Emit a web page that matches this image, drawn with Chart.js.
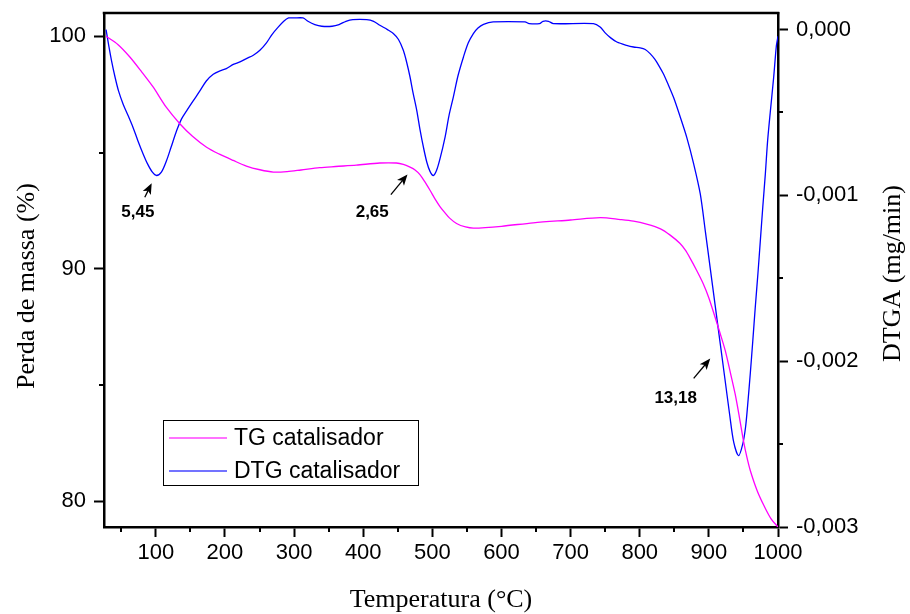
<!DOCTYPE html>
<html><head><meta charset="utf-8">
<script src="https://cdn.jsdelivr.net/npm/chart.js@4/dist/chart.umd.min.js"></script>
<style>html,body{margin:0;padding:0;background:#fff;}canvas{display:block;}</style>
</head><body>
<canvas id="c" width="910" height="614"></canvas>
<script>
// ---- data ----
const tgTemp = [28,45,62.4,80,96,115,134.7,153,173.4,192,212,231,250.5,270,290,310,337,360,390,424,448,458,467.7,475,482,489,496.6,504,511,518,525,535,548,560,600,646,700,743,772,791,810,830,844,858,866,873,882,892,900,909,916,923.7,931,938,944,950,955,960,970,980,990,1000];
const tgMass = [100.0,99.65,99.11,98.45,97.82,96.95,96.24,95.7,95.23,94.93,94.66,94.42,94.26,94.16,94.18,94.25,94.35,94.4,94.46,94.55,94.55,94.49,94.37,94.25,94.05,93.75,93.38,93.0,92.68,92.42,92.18,91.95,91.8,91.75,91.83,91.98,92.1,92.2,92.12,92.05,91.92,91.72,91.45,91.1,90.8,90.45,89.95,89.35,88.75,87.92,87.25,86.48,85.55,84.62,83.65,82.61,81.9,81.32,80.45,79.8,79.25,78.9];
const dtgTemp = [28,32,36,40.6,46,52.7,60,67,74,81.6,88,95,101,108,115.5,122,130,137,144.5,154,163.7,173,183,192,202,212,221.6,231,241,250.5,260,268,276,285,292,300,313,320,330,340,355,365,375,385,405,415,424,435,443.5,451,458,463,467.7,472,477.4,482,487,492,496.6,501.4,506,511,518.4,524,530.4,537,545,552,559.3,566,574,588,634,640,655,660,668,675,733,742.7,750,758,766.9,781,791,800.6,808,815,822,828,834,841,849,858,868,878,887.5,895,902,909,916,923,930,936,943,949,953,956,960,963.5,967.2,971,974.5,978,981.7,985,989,993.7,997.6,1000];
const dtgRate = [0.0,-0.0001,-0.00019,-0.00028,-0.00037,-0.00045,-0.00052,-0.00059,-0.00067,-0.00075,-0.00081,-0.00086,-0.00088,-0.00086,-0.00079,-0.00071,-0.00061,-0.00054,-0.00049,-0.00043,-0.00037,-0.00031,-0.00027,-0.00025,-0.000235,-0.00021,-0.000195,-0.000175,-0.000155,-0.000125,-0.00008,-0.00003,0.00001,0.00005,0.00007,0.00007,0.00007,0.00005,0.00003,0.00002,0.00002,0.00003,0.00005,0.00006,0.00006,0.00005,0.000026,0.0,-0.000024,-0.00006,-0.000125,-0.0002,-0.000286,-0.00038,-0.000487,-0.0006,-0.000708,-0.0008,-0.000855,-0.00088,-0.00085,-0.00078,-0.000648,-0.00052,-0.000406,-0.00028,-0.000165,-0.00008,-0.000024,0.00001,0.000032,0.000046,0.000046,0.000036,0.000036,0.00005,0.00005,0.000036,0.000036,0.000016,-0.00002,-0.00005,-0.000075,-0.000095,-0.000105,-0.00011,-0.00012,-0.000145,-0.00018,-0.00022,-0.000265,-0.00033,-0.00041,-0.00052,-0.00065,-0.00081,-0.00099,-0.00122,-0.00144,-0.00166,-0.00188,-0.0021,-0.00232,-0.00249,-0.00257,-0.0025,-0.0024,-0.00227,-0.00207,-0.00188,-0.00167,-0.00147,-0.00127,-0.00107,-0.00087,-0.00067,-0.00049,-0.00029,-0.0001,-0.00004];
const xMajorTicks = [100,200,300,400,500,600,700,800,900,1000];
const xMinorTicks = [50,150,250,350,450,550,650,750,850,950];
const massMajorTicks = [80,90,100];
const massMinorTicks = [85,95];
const rateMajorTicks = [0,-0.001,-0.002,-0.003];
const rateMinorTicks = [-0.0005,-0.0015,-0.0025];
const seriesNames = ['TG catalisador','DTG catalisador'];
const axisTitles = ['Temperatura (°C)','Perda de massa (%)','DTGA (mg/min)'];
const peakLabels = ['5,45','2,65','13,18'];
// label anchor (temperature, mass) and arrow tail/head in data units of the mass axis
const peakLabelAt = [[74,92.42],[413,92.42],[852,84.42]];
const peakArrowFrom = [[84,93.08],[440,93.19],[878,85.29]];
const peakArrowTo = [[94,93.68],[464,94.06],[902,86.14]];

const SANS = "'Liberation Sans', Arial, sans-serif";
const SERIF = "'Liberation Serif', 'Times New Roman', serif";
const fmtRate = v => Math.abs(v) < 1e-12 ? '0,000' : v.toFixed(3).replace('.', ',');

function setTicks(list) {
  return s => { s.ticks = list.slice().sort((a,b)=>a-b).map(v => ({value: v})); };
}

const decor = {
  id: 'decor',
  afterDraw(chart) {
    const c = chart.ctx, a = chart.chartArea;
    const x = chart.scales.x, ym = chart.scales.yMass, yr = chart.scales.yRate;
    c.save();
    // top frame line
    c.strokeStyle = '#000'; c.lineWidth = 2.5;
    c.beginPath(); c.moveTo(a.left - 1.25, a.top); c.lineTo(a.right + 1.25, a.top); c.stroke();
    // minor ticks
    c.lineWidth = 2;
    c.beginPath();
    xMinorTicks.forEach(v => { const px = Math.round(x.getPixelForValue(v)); c.moveTo(px, a.bottom); c.lineTo(px, a.bottom + 5); });
    massMinorTicks.forEach(v => { const py = Math.round(ym.getPixelForValue(v)); c.moveTo(a.left, py); c.lineTo(a.left - 5, py); });
    rateMinorTicks.forEach(v => { const py = Math.round(yr.getPixelForValue(v)); c.moveTo(a.right, py); c.lineTo(a.right + 5, py); });
    c.stroke();
    // axis titles
    c.fillStyle = '#000';
    c.font = '26px ' + SERIF;
    c.textAlign = 'center'; c.textBaseline = 'middle';
    c.fillText(axisTitles[0], (a.left + a.right) / 2, 600);
    c.save(); c.translate(27, 286); c.rotate(-Math.PI/2); c.fillText(axisTitles[1], 0, 0); c.restore();
    c.save(); c.translate(893, 273.5); c.rotate(-Math.PI/2); c.fillText(axisTitles[2], 0, 0); c.restore();
    // peak annotations
    c.font = 'bold 17px ' + SANS;
    peakLabels.forEach((t, i) => {
      c.fillText(t, x.getPixelForValue(peakLabelAt[i][0]), ym.getPixelForValue(peakLabelAt[i][1]));
      const x0 = x.getPixelForValue(peakArrowFrom[i][0]), y0 = ym.getPixelForValue(peakArrowFrom[i][1]);
      const x1 = x.getPixelForValue(peakArrowTo[i][0]), y1 = ym.getPixelForValue(peakArrowTo[i][1]);
      const ang = Math.atan2(y1 - y0, x1 - x0), hl = 11, hw = 4.5;
      c.lineWidth = 1.3;
      c.beginPath(); c.moveTo(x0, y0); c.lineTo(x1 - Math.cos(ang)*hl*0.7, y1 - Math.sin(ang)*hl*0.7); c.stroke();
      c.beginPath();
      c.moveTo(x1, y1);
      c.lineTo(x1 - Math.cos(ang)*hl + Math.sin(ang)*hw, y1 - Math.sin(ang)*hl - Math.cos(ang)*hw);
      c.lineTo(x1 - Math.cos(ang)*hl*0.75, y1 - Math.sin(ang)*hl*0.75);
      c.lineTo(x1 - Math.cos(ang)*hl - Math.sin(ang)*hw, y1 - Math.sin(ang)*hl + Math.cos(ang)*hw);
      c.closePath(); c.fill();
    });
    // legend
    c.fillStyle = '#fff';
    c.fillRect(163.5, 420.5, 255, 65);
    c.strokeStyle = '#000'; c.lineWidth = 1;
    c.strokeRect(163.5, 420.5, 255, 65);
    c.font = '23px ' + SANS; c.textAlign = 'left';
    chart.data.datasets.forEach((ds, i) => {
      const ly = 438 + i * 33;
      c.save(); c.globalAlpha = 0.55; c.strokeStyle = ds.borderColor; c.lineWidth = 2;
      c.beginPath(); c.moveTo(169, ly); c.lineTo(227, ly); c.stroke(); c.restore();
      c.fillStyle = '#000';
      c.fillText(ds.label, 234, ly + 1);
    });
    c.restore();
  }
};

const noPadY = s => { s.paddingTop = 0; s.paddingBottom = 0; };

new Chart(document.getElementById('c'), {
  type: 'line',
  data: {
    datasets: [
      { label: seriesNames[0], data: tgTemp.map((t, i) => ({x: t, y: tgMass[i]})), yAxisID: 'yMass',
        borderColor: '#ff00ff', borderWidth: 1.3, pointRadius: 0, fill: false, tension: 0.3 },
      { label: seriesNames[1], data: dtgTemp.map((t, i) => ({x: t, y: dtgRate[i]})), yAxisID: 'yRate',
        borderColor: '#0000ff', borderWidth: 1.3, pointRadius: 0, fill: false, tension: 0.3 }
    ]
  },
  options: {
    responsive: false, animation: false, devicePixelRatio: 1,
    layout: { padding: { top: 13, left: 0, right: 0, bottom: 0 } },
    plugins: { legend: { display: false }, tooltip: { enabled: false } },
    scales: {
      x: {
        type: 'linear', position: 'bottom', min: 25, max: 1000,
        afterBuildTicks: setTicks(xMajorTicks),
        afterFit: s => { s.height = 87; s.paddingLeft = 0; s.paddingRight = 0; },
        ticks: { autoSkip: false, maxRotation: 0, color: '#000', padding: 3,
                 font: { family: SANS, size: 22 }, callback: v => String(v) },
        grid: { drawOnChartArea: false, tickLength: 10, tickWidth: 2, tickColor: '#000' },
        border: { color: '#000', width: 2.5 }
      },
      yMass: {
        type: 'linear', position: 'left', min: 78.9, max: 101,
        afterBuildTicks: setTicks(massMajorTicks),
        afterFit: s => { s.width = 104; noPadY(s); },
        ticks: { autoSkip: false, color: '#000', padding: 8,
                 font: { family: SANS, size: 22 }, callback: v => String(v) },
        grid: { drawOnChartArea: false, tickLength: 10, tickWidth: 2, tickColor: '#000' },
        border: { color: '#000', width: 2.5 }
      },
      yRate: {
        type: 'linear', position: 'right', min: -0.003, max: 0.0001,
        afterBuildTicks: setTicks(rateMajorTicks),
        afterFit: s => { s.width = 132; noPadY(s); },
        ticks: { autoSkip: false, color: '#000', padding: 8,
                 font: { family: SANS, size: 22 }, callback: v => fmtRate(v) },
        grid: { drawOnChartArea: false, tickLength: 10, tickWidth: 2, tickColor: '#000' },
        border: { color: '#000', width: 2.5 }
      }
    }
  },
  plugins: [decor]
});
</script>
</body></html>
